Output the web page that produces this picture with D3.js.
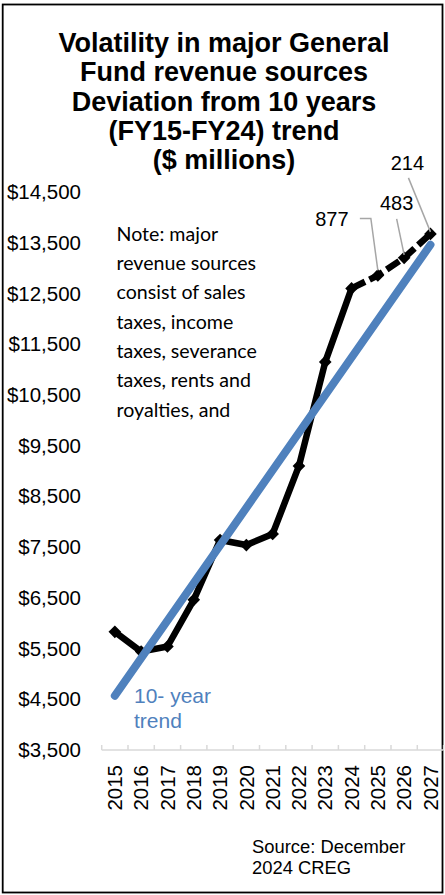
<!DOCTYPE html>
<html>
<head>
<meta charset="utf-8">
<script src="https://cdn.jsdelivr.net/npm/d3@7"></script>
<style>
  html, body { margin: 0; padding: 0; background: #fff; }
  svg { display: block; }
</style>
</head>
<body>
<svg id="chart" width="445" height="895"></svg>
<script>
// Fiscal years on the category axis
const years = ["2015","2016","2017","2018","2019","2020","2021","2022","2023","2024","2025","2026","2027"];

// Actual major General Fund revenue, FY15-FY24 ($ millions)
const actualYears = ["2015","2016","2017","2018","2019","2020","2021","2022","2023","2024"];
const actualRevenue = [5830, 5440, 5540, 6460, 7640, 7540, 7760, 9100, 11150, 12600];

// Forecast years and their deviation from the 10-year trend ($ millions)
const forecastYears = ["2025","2026","2027"];
const forecastDeviation = [877, 483, 214];

// 10-year (FY15-FY24) linear trend, end points
const trendYears = ["2015","2027"];
const trendValues = [4570, 13460];

// Value-axis ticks
const yTicks = [3500, 4500, 5500, 6500, 7500, 8500, 9500, 10500, 11500, 12500, 13500, 14500];

const titleLines = [
  "Volatility in major General",
  "Fund revenue sources",
  "Deviation from 10 years",
  "(FY15-FY24) trend",
  "($ millions)"
];
const noteLines = [
  "Note: major",
  "revenue sources",
  "consist of sales",
  "taxes, income",
  "taxes, severance",
  "taxes, rents and",
  "royalties, and"
];
const trendLabelLines = ["10- year", "trend"];
const sourceLines = ["Source: December", "2024 CREG"];

const svg = d3.select("#chart");
const ARIAL = "'Liberation Sans', Arial, sans-serif";
const NOTE_FONT = "Lato, 'Open Sans', sans-serif";
const BLUE = "#4f81bd";

// Scales
const x = d3.scalePoint().domain(years).range([101.7, 443.6]).padding(0.5);
const y = d3.scaleLinear().domain([3500, 14500]).range([750, 192]);
const trendAt = d3.scaleLinear()
  .domain(trendYears.map(Number))
  .range(trendValues);

// Combined series: actual values, then trend + stated deviation
const actualPts = actualYears.map((yr, i) => ({ year: yr, value: actualRevenue[i] }));
const forecastPts = forecastYears.map((yr, i) => ({
  year: yr,
  value: trendAt(+yr) + forecastDeviation[i],
  dev: forecastDeviation[i]
}));
const allPts = actualPts.concat(forecastPts);

// Outer frame
svg.append("rect")
  .attr("x", 2.7).attr("y", 4.5)
  .attr("width", 439.8).attr("height", 888)
  .attr("fill", "#fff")
  .attr("stroke", "#000")
  .attr("stroke-width", 1.8);

// Title
svg.append("g")
  .selectAll("text")
  .data(titleLines)
  .join("text")
  .attr("x", 224)
  .attr("y", (d, i) => 52 + i * 29.3)
  .attr("text-anchor", "middle")
  .attr("font-family", ARIAL)
  .attr("font-weight", "bold")
  .attr("font-size", 27)
  .attr("fill", "#000")
  .text(d => d);

// Value axis labels (no axis line)
const yAxis = d3.axisLeft(y)
  .tickValues(yTicks)
  .tickFormat(d => "$" + d3.format(",")(d))
  .tickSize(0)
  .tickPadding(0);
const yG = svg.append("g")
  .attr("transform", "translate(81,0)")
  .call(yAxis);
yG.select(".domain").remove();
yG.selectAll("text")
  .attr("font-family", ARIAL)
  .attr("font-size", 20.5)
  .attr("fill", "#000");

// Category axis
const xG = svg.append("g").attr("transform", "translate(0,750)");
const bandStep = x.step();
xG.append("line")
  .attr("x1", x.range()[0]).attr("x2", x.range()[1])
  .attr("y1", 0).attr("y2", 0)
  .attr("stroke", "#d9d9d9").attr("stroke-width", 1.5);
xG.selectAll("line.tick")
  .data(d3.range(years.length + 1))
  .join("line")
  .attr("class", "tick")
  .attr("x1", i => x.range()[0] + i * bandStep)
  .attr("x2", i => x.range()[0] + i * bandStep)
  .attr("y1", -5).attr("y2", 0)
  .attr("stroke", "#d9d9d9").attr("stroke-width", 1.5);
xG.selectAll("text")
  .data(years)
  .join("text")
  .attr("transform", d => `translate(${x(d)},15) rotate(-90)`)
  .attr("text-anchor", "end")
  .attr("dy", "0.35em")
  .attr("font-family", ARIAL)
  .attr("font-size", 20.5)
  .attr("fill", "#000")
  .text(d => d);

// Note text
svg.append("g")
  .selectAll("text")
  .data(noteLines)
  .join("text")
  .attr("x", 116.5)
  .attr("y", (d, i) => 240.7 + i * 29.3)
  .attr("font-family", NOTE_FONT)
  .attr("font-size", 19.6)
  .attr("fill", "#000")
  .text(d => d);

// Revenue line: solid for actuals, dashed for forecast
const line = d3.line()
  .x(d => x(d.year))
  .y(d => y(d.value));

svg.append("path")
  .datum(actualPts)
  .attr("d", line)
  .attr("fill", "none")
  .attr("stroke", "#000")
  .attr("stroke-width", 6.5)
  .attr("stroke-linejoin", "round");

svg.append("path")
  .datum([actualPts[actualPts.length - 1]].concat(forecastPts))
  .attr("d", line)
  .attr("fill", "none")
  .attr("stroke", "#000")
  .attr("stroke-width", 6.5)
  .attr("stroke-dasharray", "15,5");

// Diamond markers
svg.append("g")
  .selectAll("path")
  .data(allPts)
  .join("path")
  .attr("d", d3.symbol().type(d3.symbolSquare).size(80))
  .attr("transform", d => `translate(${x(d.year)},${y(d.value)}) rotate(45)`)
  .attr("fill", "#000");

// Trend line
svg.append("line")
  .attr("x1", x(trendYears[0])).attr("y1", y(trendValues[0]))
  .attr("x2", x(trendYears[1])).attr("y2", y(trendValues[1]))
  .attr("stroke", BLUE)
  .attr("stroke-width", 8)
  .attr("stroke-linecap", "round");

// Trend label
svg.append("g")
  .selectAll("text")
  .data(trendLabelLines)
  .join("text")
  .attr("x", 134)
  .attr("y", (d, i) => 703 + i * 25)
  .attr("font-family", ARIAL)
  .attr("font-size", 21)
  .attr("fill", BLUE)
  .text(d => d);

// Deviation labels with leader lines
const labelOffsets = [
  { dx: -46, dy: -56, leader: (lx, ly, mx, my) => [[lx + 28, ly - 1], [mx - 7, ly - 1], [mx, my - 5]] },
  { dx: -7.5, dy: -55, leader: (lx, ly, mx, my) => [[lx, ly + 16], [mx, my - 3]] },
  { dx: -23, dy: -71, leader: (lx, ly, mx, my) => [[lx + 1, ly + 15], [mx, my - 2]] }
];
const devG = svg.append("g");
forecastPts.forEach((p, i) => {
  const mx = x(p.year), my = y(p.value);
  const o = labelOffsets[i];
  const lx = mx + o.dx, ly = my + o.dy;
  devG.append("path")
    .attr("d", d3.line()(o.leader(lx, ly, mx, my)))
    .attr("fill", "none")
    .attr("stroke", "#a6a6a6")
    .attr("stroke-width", 1.5);
  devG.append("text")
    .attr("x", lx).attr("y", ly)
    .attr("dy", "0.35em")
    .attr("text-anchor", "middle")
    .attr("font-family", ARIAL)
    .attr("font-size", 20)
    .attr("fill", "#000")
    .text(d3.format(",")(p.dev));
});

// Source note
svg.append("g")
  .selectAll("text")
  .data(sourceLines)
  .join("text")
  .attr("x", 252)
  .attr("y", (d, i) => 853 + i * 21)
  .attr("font-family", ARIAL)
  .attr("font-size", 18.4)
  .attr("fill", "#000")
  .text(d => d);
</script>
</body>
</html>
